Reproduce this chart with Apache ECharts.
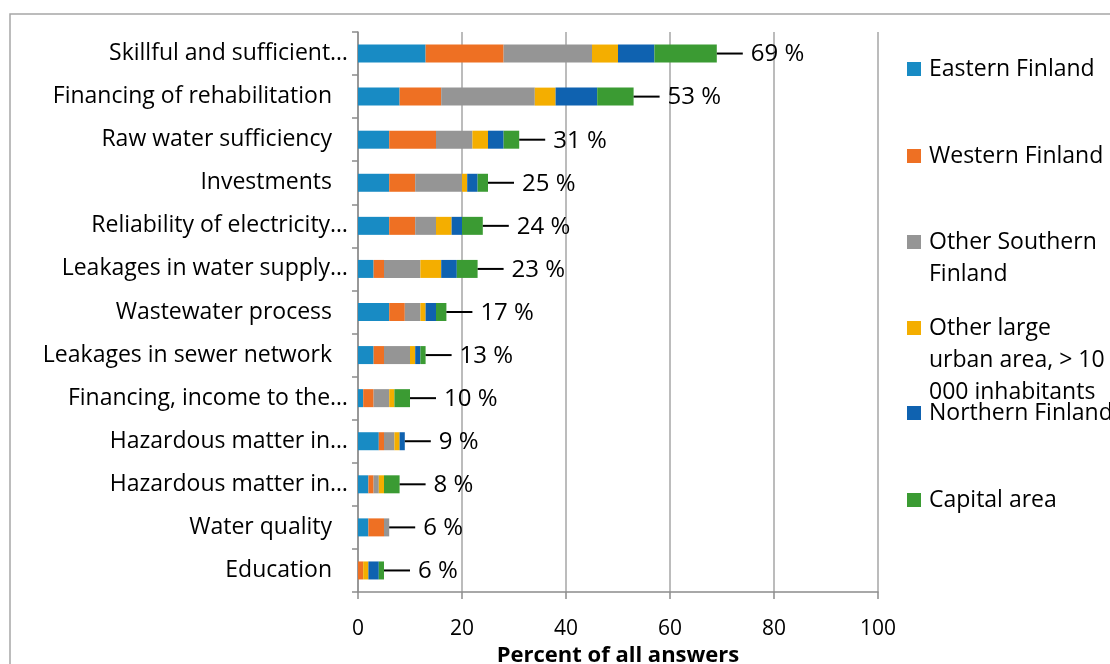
<!DOCTYPE html>
<html>
<head>
<meta charset="utf-8">
<script src="https://cdn.jsdelivr.net/npm/echarts@6/dist/echarts.min.js"></script>
<style>
  html, body { margin: 0; padding: 0; background: #fff; }
  #chart { width: 1110px; height: 664px; }
</style>
</head>
<body>
<div id="chart"></div>
<script>
// Problem areas, top to bottom
const categories = [
  'Skillful and sufficient…',
  'Financing of rehabilitation',
  'Raw water sufficiency',
  'Investments',
  'Reliability of electricity…',
  'Leakages in water supply…',
  'Wastewater process',
  'Leakages in sewer network',
  'Financing, income to the…',
  'Hazardous matter in…',
  'Hazardous matter in…',
  'Water quality',
  'Education'
];

// Share of answers (%) by region
const easternFinland      = [13, 8, 6, 6, 6, 3, 6, 3, 1, 4, 2, 2, 0];
const westernFinland      = [15, 8, 9, 5, 5, 2, 3, 2, 2, 1, 1, 3, 1];
const otherSouthern       = [17, 18, 7, 9, 4, 7, 3, 5, 3, 2, 1, 1, 0];
const otherLargeUrban     = [5, 4, 3, 1, 3, 4, 1, 1, 1, 1, 1, 0, 1];
const northernFinland     = [7, 8, 3, 2, 2, 3, 2, 1, 0, 1, 0, 0, 2];
const capitalArea         = [12, 7, 3, 2, 4, 4, 2, 1, 3, 0, 3, 0, 1];

// Percent of all answers per problem area
const totals = [69, 53, 31, 25, 24, 23, 17, 13, 10, 9, 8, 6, 6];

// X-axis ticks
const xTicks = [0, 20, 40, 60, 80, 100];

const seriesNames = [
  'Eastern Finland',
  'Western Finland',
  'Other Southern Finland',
  'Other large urban area, > 10 000 inhabitants',
  'Northern Finland',
  'Capital area'
];
const seriesValues = [easternFinland, westernFinland, otherSouthern, otherLargeUrban, northernFinland, capitalArea];
const colors = ['#188bc4', '#ee7023', '#959595', '#f4ae00', '#0f62b0', '#3b9b33'];

// Legend labels wrapped the way the legend box shows them
const legendText = {
  'Eastern Finland': 'Eastern Finland',
  'Western Finland': 'Western Finland',
  'Other Southern Finland': 'Other Southern\nFinland',
  'Other large urban area, > 10 000 inhabitants': 'Other large\nurban area, > 10\n000 inhabitants',
  'Northern Finland': 'Northern Finland',
  'Capital area': 'Capital area'
};

const FONT = '"Open Sans", "Noto Sans", sans-serif';
const LINE_H = 32;

// Stacked end of each bar
const stackEnds = categories.map((_, i) => seriesValues.reduce((s, arr) => s + arr[i], 0));

const chart = echarts.init(document.getElementById('chart'), null, { renderer: 'canvas' });

// One legend per entry. Legend text is centred on its swatch, so multi-line
// entries get blank lines above them to keep the swatch level with line one.
const slotCenters = [69, 156, 242, 328, 413, 500];
const legends = seriesNames.map((name, k) => {
  const lines = legendText[name].split('\n').length;
  const blockH = (2 * lines - 1) * LINE_H;
  return {
    show: true,
    orient: 'vertical',
    left: 907,
    top: slotCenters[k] - blockH / 2,
    padding: 0,
    itemWidth: 14,
    itemHeight: 14,
    itemGap: 0,
    icon: 'rect',
    selectedMode: false,
    formatter: n => '\n'.repeat(lines - 1) + legendText[n],
    data: [name],
    textStyle: {
      fontFamily: FONT,
      fontSize: 23,
      color: '#000',
      lineHeight: LINE_H,
      padding: [0, 0, 0, 3]
    }
  };
});

const barSeries = seriesNames.map((name, k) => ({
  name: name,
  type: 'bar',
  stack: 'total',
  barWidth: 18,
  itemStyle: { color: colors[k] },
  emphasis: { disabled: true },
  data: seriesValues[k]
}));

const totalSeries = {
  type: 'custom',
  name: 'totalLabels',
  z: 10,
  silent: true,
  encode: { x: 0, y: 1 },
  data: categories.map((c, i) => [stackEnds[i], i, totals[i]]),
  renderItem: (params, api) => {
    const p = api.coord([api.value(0), api.value(1)]);
    return {
      type: 'group',
      children: [
        {
          type: 'line',
          shape: { x1: p[0], y1: p[1], x2: p[0] + 26, y2: p[1] },
          style: { stroke: '#000', lineWidth: 2 }
        },
        {
          type: 'text',
          x: p[0] + 34,
          y: p[1] + 1,
          style: {
            text: api.value(2) + ' %',
            fontFamily: FONT,
            fontSize: 24,
            fill: '#000',
            align: 'left',
            verticalAlign: 'middle'
          }
        }
      ]
    };
  }
};

const catFont = { fontFamily: FONT, fontSize: 23, color: '#000' };

chart.setOption({
  animation: false,
  backgroundColor: '#fff',
  graphic: [{
    type: 'rect',
    shape: { x: 10, y: 14, width: 1130, height: 680 },
    style: { fill: 'none', stroke: '#a6a6a6', lineWidth: 1.5 },
    silent: true,
    z: -1
  }],
  legend: legends,
  grid: {
    left: 358, right: 232, top: 32, bottom: 72,
    containLabel: false,
    outerBoundsMode: 'none'
  },
  xAxis: {
    type: 'value',
    min: xTicks[0],
    max: xTicks[xTicks.length - 1],
    interval: xTicks[1] - xTicks[0],
    name: 'Percent of all answers',
    nameLocation: 'middle',
    nameGap: 53,
    nameTextStyle: { fontFamily: FONT, fontSize: 22, fontWeight: 'bold', color: '#000' },
    axisLine: { show: true, lineStyle: { color: '#8c8c8c', width: 1.5 } },
    axisTick: { show: true, length: 7, lineStyle: { color: '#8c8c8c', width: 1.5 } },
    axisLabel: { margin: 27, fontFamily: FONT, fontSize: 21, color: '#000' },
    splitLine: { show: true, lineStyle: { color: '#a6a6a6', width: 1.5 } }
  },
  yAxis: {
    type: 'category',
    inverse: true,
    data: categories,
    axisLine: { show: true, lineStyle: { color: '#8c8c8c', width: 1.5 } },
    axisTick: { show: true, length: 6, interval: 0, lineStyle: { color: '#8c8c8c', width: 1.5 } },
    axisLabel: Object.assign({
      margin: 10,
      interval: 0,
      // shortened names run closer to the axis than complete ones
      formatter: v => v.endsWith('…') ? v : '{full|' + v + '}',
      rich: { full: Object.assign({ padding: [0, 16, 0, 0] }, catFont) }
    }, catFont),
    splitLine: { show: false }
  },
  series: [...barSeries, totalSeries]
});
</script>
</body>
</html>
